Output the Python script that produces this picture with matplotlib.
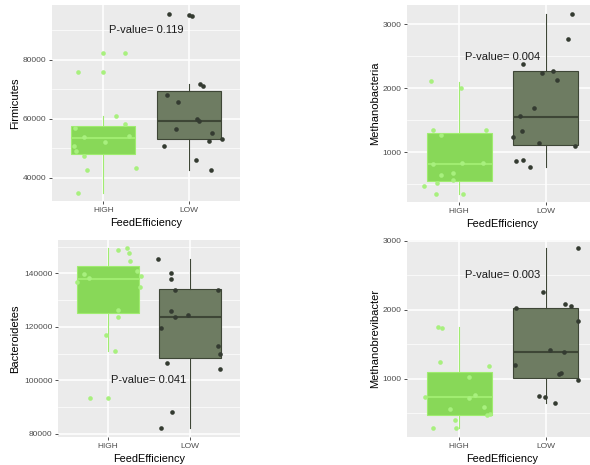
import matplotlib
matplotlib.use('Agg')
import matplotlib.pyplot as plt

plt.rcParams['font.family'] = ['Liberation Sans', 'DejaVu Sans']

groups = ['HIGH', 'LOW']

# ---- Firmicutes
firm_high = [76000, 82500, 82500, 76000, 61000, 58200, 56900, 53900, 54100, 52200, 50900, 49000, 47300, 42800, 43400, 34900]
firm_high_dx = [-0.30, 0.00, 0.26, 0.00, 0.15, 0.26, -0.33, -0.22, 0.30, 0.02, -0.34, -0.32, -0.23, -0.19, 0.38, -0.30]
firm_low = [95400, 95200, 95000, 71900, 71000, 68100, 65700, 59900, 59300, 56700, 55400, 53300, 52600, 50700, 46000, 42800]
firm_low_dx = [-0.23, 0.00, 0.04, 0.13, 0.17, -0.26, -0.12, 0.10, 0.12, -0.15, 0.27, 0.39, 0.24, -0.29, 0.08, 0.26]
firm_q1 = [48100, 53200]
firm_med = [53700, 59200]
firm_q3 = [57700, 69600]
firm_lo = [34900, 42800]
firm_hi = [61000, 71900]
firm_p = 'P-value= 0.119'

# ---- Methanobacteria
mbac_high = [2115, 2000, 1351, 1340, 1272, 806, 827, 832, 644, 675, 555, 513, 471, 346, 346]
mbac_high_dx = [-0.32, 0.02, -0.30, 0.31, -0.21, -0.30, 0.03, 0.28, -0.21, -0.07, -0.07, -0.26, -0.40, -0.27, 0.04]
mbac_low = [3152, 2770, 2372, 2236, 2272, 2120, 1681, 1555, 1335, 1236, 1141, 1089, 864, 880, 764]
mbac_low_dx = [0.30, 0.26, -0.26, -0.05, 0.08, 0.13, -0.14, -0.30, -0.27, -0.38, -0.08, 0.33, -0.34, -0.26, -0.18]
mbac_q1 = [540, 1110]
mbac_med = [805, 1550]
mbac_q3 = [1300, 2262]
mbac_lo = [346, 764]
mbac_hi = [2100, 3150]
mbac_p = 'P-value= 0.004'

# ---- Bacteroidetes
bact_high = [149400, 148800, 147800, 144800, 140800, 139900, 139100, 136600, 138300, 134900, 126300, 123800, 117100, 111000, 93400, 93500]
bact_high_dx = [0.23, 0.13, 0.26, 0.27, 0.35, -0.28, 0.40, -0.37, -0.22, 0.39, 0.12, 0.12, -0.02, 0.09, -0.21, 0.01]
bact_low = [145400, 140000, 137900, 133800, 133800, 125800, 123800, 124500, 119400, 113000, 110000, 106600, 104100, 88100, 82100]
bact_low_dx = [-0.39, -0.24, -0.24, -0.19, 0.34, -0.24, -0.19, -0.03, -0.36, 0.33, 0.36, -0.28, 0.36, -0.22, -0.36]
bact_q1 = [125300, 108300]
bact_med = [138000, 123800]
bact_q3 = [142900, 134000]
bact_lo = [111000, 82100]
bact_hi = [149400, 145300]
bact_p = 'P-value= 0.041'

# ---- Methanobrevibacter
mbre_high = [1758, 1744, 1246, 1188, 1029, 744, 768, 729, 570, 589, 473, 488, 406, 295, 295]
mbre_high_dx = [-0.24, -0.20, -0.22, 0.34, 0.11, -0.39, 0.18, 0.11, -0.11, 0.29, 0.32, 0.36, -0.05, -0.30, -0.03]
mbre_low = [2894, 2256, 2024, 2082, 2058, 1845, 1425, 1391, 1203, 1068, 1087, 981, 754, 734, 657]
mbre_low_dx = [0.37, -0.03, -0.35, 0.22, 0.29, 0.37, 0.05, 0.21, -0.36, 0.15, 0.17, 0.37, -0.08, -0.01, 0.11]
mbre_q1 = [478, 1019]
mbre_med = [734, 1396]
mbre_q3 = [1097, 2034]
mbre_lo = [295, 657]
mbre_hi = [1758, 2894]
mbre_p = 'P-value= 0.003'

fill = ['#88D858', '#6E7C62']
edge = ['#A0EC70', '#3E4636']
pt_col = ['#A8F07E', '#343B31']

W, H = 590, 465
fig = plt.figure(figsize=(W / 100, H / 100), dpi=100)


def px_rect(x0, y0, x1, y1):
    return [x0 / W, 1 - y1 / H, (x1 - x0) / W, (y1 - y0) / H]


def panel(rect, ylabel, high, high_dx, low, low_dx, q1, med, q3, lo, hi,
          ylim, major, minor, ptext, py, ylab_x):
    ax = fig.add_axes(rect)
    ax.set_facecolor('#EBEBEB')
    for s in ax.spines.values():
        s.set_visible(False)

    stats = []
    for i in range(2):
        stats.append(dict(med=med[i], q1=q1[i], q3=q3[i],
                          whislo=lo[i], whishi=hi[i], fliers=[]))
    bp = ax.bxp(stats, positions=[1, 2], widths=0.75, patch_artist=True,
                showfliers=False, showcaps=False, zorder=2)
    for i in range(2):
        bp['boxes'][i].set(facecolor=fill[i], edgecolor=edge[i], linewidth=0.8)
        bp['medians'][i].set(color=edge[i], linewidth=1.5)
        for w in bp['whiskers'][2 * i:2 * i + 2]:
            w.set(color=edge[i], linewidth=0.8)

    # jittered raw points on top of the boxes
    for i, (vals, dx) in enumerate([(high, high_dx), (low, low_dx)]):
        xs = [i + 1 + d for d in dx]
        ax.scatter(xs, vals, s=11, color=pt_col[i], linewidths=0, zorder=3)

    ax.set_xlim(0.4, 2.6)
    ax.set_ylim(*ylim)
    ax.set_xticks([1, 2])
    ax.set_xticklabels(groups)
    ax.set_yticks(major)
    ax.set_yticklabels([str(v) for v in major])
    ax.set_yticks(minor, minor=True)
    ax.set_axisbelow(True)
    ax.grid(which='major', color='white', linewidth=1.1)
    ax.grid(which='minor', axis='y', color='white', linewidth=0.5)
    ax.tick_params(which='major', length=2.5, width=0.6, color='#333333',
                   labelsize=6, labelcolor='#4D4D4D', pad=1.5)
    ax.tick_params(which='minor', length=0)

    ax.set_xlabel('FeedEfficiency', fontsize=7.8)
    ax.set_ylabel(ylabel, fontsize=8)
    ax.xaxis.label.set_va('center')
    ax.yaxis.label.set_va('center')
    ax.xaxis.set_label_coords(0.5, -0.11)
    ax.yaxis.set_label_coords(ylab_x, 0.5)

    ax.text(1.5, py, ptext, ha='center', va='center', fontsize=8,
            color='#1A1A1A', zorder=4)
    return ax


panel(px_rect(52, 5, 240, 201), 'Firmicutes', firm_high, firm_high_dx,
      firm_low, firm_low_dx, firm_q1, firm_med, firm_q3, firm_lo, firm_hi,
      (32200, 98600), [40000, 60000, 80000], [50000, 70000, 90000],
      firm_p, 90000, -0.197)

panel(px_rect(407, 5, 598, 202), 'Methanobacteria', mbac_high, mbac_high_dx,
      mbac_low, mbac_low_dx, mbac_q1, mbac_med, mbac_q3, mbac_lo, mbac_hi,
      (219, 3297), [1000, 2000, 3000], [500, 1500, 2500],
      mbac_p, 2490, -0.168)

panel(px_rect(58, 240, 240, 437), 'Bacteroidetes', bact_high, bact_high_dx,
      bact_low, bact_low_dx, bact_q1, bact_med, bact_q3, bact_lo, bact_hi,
      (78750, 152500), [80000, 100000, 120000, 140000], [90000, 110000, 130000, 150000],
      bact_p, 100000, -0.236)

panel(px_rect(407, 240, 598, 437), 'Methanobrevibacter', mbre_high, mbre_high_dx,
      mbre_low, mbre_low_dx, mbre_q1, mbre_med, mbre_q3, mbre_lo, mbre_hi,
      (159, 3014), [1000, 2000, 3000], [500, 1500, 2500],
      mbre_p, 2500, -0.168)

fig.savefig('out.png', dpi=100)
